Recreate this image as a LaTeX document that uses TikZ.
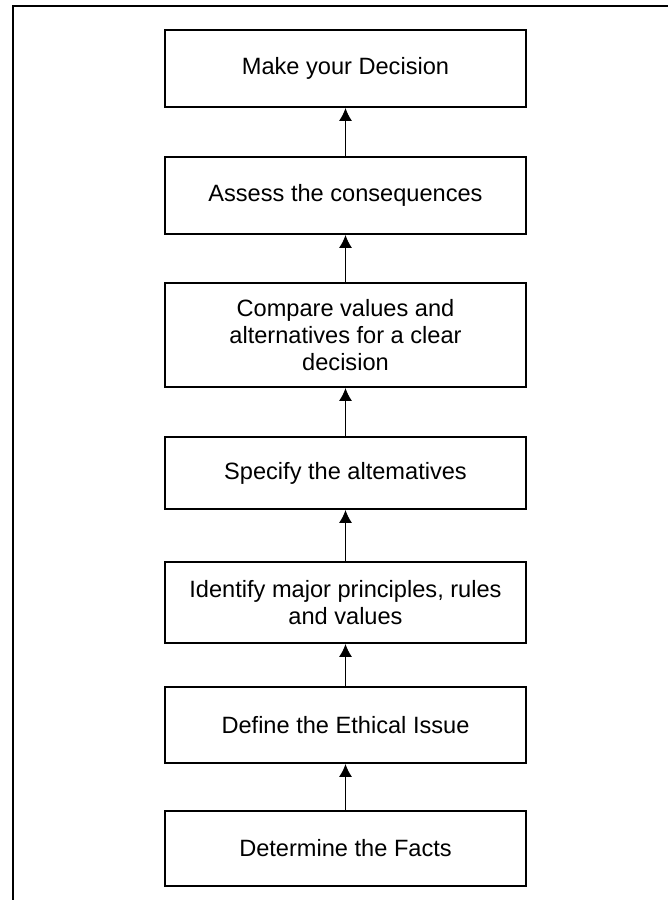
\documentclass[tikz,border=0pt]{standalone}
\usepackage{fontspec}
\setmainfont{Liberation Sans}
\usetikzlibrary{arrows.meta}

\begin{document}
\begin{tikzpicture}[x=0.5pt,y=-0.5pt,line width=0.9pt,>={Latex[length=6.5pt,width=6.6pt]},
  stepbox/.style={draw,line width=0.9pt,minimum width=180.5pt,inner sep=0pt,align=center,font=\fontsize{11.8}{13.6}\selectfont},
  link/.style={->,line width=0.9pt}]
\useasboundingbox (0,0) rectangle (668,900);
\draw[line width=1.1pt] (668,6) -| (13,900);
\node[stepbox,minimum height=38.5pt] (s1) at (345.5,68.5) {Make your Decision};
\node[stepbox,minimum height=38.5pt] (s2) at (345.5,195.5) {Assess the consequences};
\node[stepbox,minimum height=52pt] (s3) at (345.5,335) {Compare values and\\alternatives for a clear\\decision};
\node[stepbox,minimum height=36pt] (s4) at (345.5,473) {Specify the altematives};
\node[stepbox,minimum height=40.5pt] (s5) at (345.5,602.5) {Identify major principles, rules\\and values};
\node[stepbox,minimum height=38pt] (s6) at (345.5,725) {Define the Ethical Issue};
\node[stepbox,minimum height=37.5pt] (s7) at (345.5,848.5) {Determine the Facts};
\foreach \i/\j in {7/6,6/5,5/4,4/3,3/2,2/1}{\draw[link] (s\i) -- (s\j);};
\end{tikzpicture}
\end{document}
